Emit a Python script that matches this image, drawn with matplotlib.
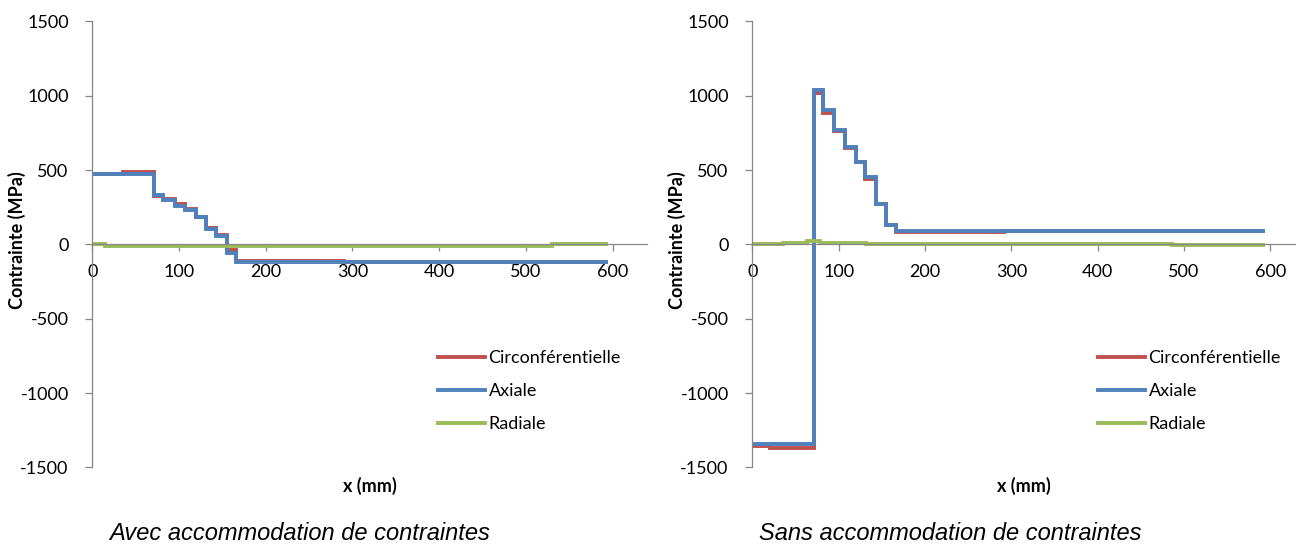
import matplotlib
matplotlib.use("Agg")
import matplotlib.pyplot as plt

plt.rcParams['font.family'] = ['Lato', 'DejaVu Sans']
plt.rcParams['axes.unicode_minus'] = False

# --- data (x in mm, stress in MPa) ---
# Avec accommodation de contraintes
left_circ_x = [0, 35, 71, 82, 95, 107, 120, 131, 143, 155, 166, 290, 592]
left_circ_y = [470, 485, 325, 305, 270, 235, 185, 110, 65, -40, -112, -122]
left_axial_x = [0, 71, 82, 95, 107, 120, 131, 143, 155, 166, 592]
left_axial_y = [472, 335, 297, 260, 229, 181, 104, 59, -57, -122]
left_radial_x = [0, 15, 110, 215, 530, 592]
left_radial_y = [4, -8, -12, -8, 2]

# Sans accommodation de contraintes
right_circ_x = [0, 20, 71, 82, 95, 107, 120, 131, 143, 155, 166, 292, 592]
right_circ_y = [-1355, -1370, 1020, 880, 760, 650, 555, 440, 272, 128, 83, 92]
right_axial_x = [0, 71, 82, 95, 107, 120, 131, 143, 155, 166, 592]
right_axial_y = [-1340, 1035, 905, 770, 655, 555, 455, 272, 128, 92]
right_radial_x = [0, 9, 35, 63, 78, 132, 486, 592]
right_radial_y = [0, 4, 10, 22, 10, 4, -4]

series_names = ['Circonférentielle', 'Axiale', 'Radiale']
colors = ['#C0504D', '#4F81BD', '#9BBB59']
x_ticks = [0, 100, 200, 300, 400, 500, 600]
y_ticks = [-1500, -1000, -500, 0, 500, 1000, 1500]
captions = ['Avec accommodation de contraintes', 'Sans accommodation de contraintes']

W, H = 1296, 552
fig = plt.figure(figsize=(W / 100, H / 100), dpi=100)

axes_specs = [
    ([92.3 / W, 84.6 / H, 555 / W, 446.1 / H], 640,
     [(left_circ_x, left_circ_y), (left_axial_x, left_axial_y), (left_radial_x, left_radial_y)],
     438),
    ([752.3 / W, 84.6 / H, 544 / W, 446.1 / H], 630,
     [(right_circ_x, right_circ_y), (right_axial_x, right_axial_y), (right_radial_x, right_radial_y)],
     1098),
]

grey = '#868686'
for i, (rect, xmax, data, leg_x) in enumerate(axes_specs):
    ax = fig.add_axes(rect)
    for (xs, ys), name, c in zip(data, series_names, colors):
        ax.step(xs, list(ys) + [ys[-1]], where='post', color=c, lw=2.8,
                label=name, solid_joinstyle='miter')

    ax.set_xlim(0, xmax)
    ax.set_ylim(-1500, 1500)
    ax.set_xticks(x_ticks)
    ax.set_yticks(y_ticks)

    for s in ['top', 'right']:
        ax.spines[s].set_visible(False)
    ax.spines['bottom'].set_position(('data', 0))
    for s in ['left', 'bottom']:
        ax.spines[s].set_color(grey)
        ax.spines[s].set_linewidth(0.9)

    ax.tick_params(axis='x', direction='out', length=5, width=0.9, color=grey,
                   labelsize=13, pad=9)
    ax.tick_params(axis='y', direction='out', length=5, width=0.9, color=grey,
                   labelsize=13, pad=12)

    # axis titles
    off = i * 660
    fig.text((17 + off) / W, 1 - 240 / H, 'Contrainte (MPa)', rotation=90,
             ha='center', va='center', fontsize=13, fontweight='bold')
    cx = rect[0] + rect[2] / 2
    fig.text(cx, 1 - 486 / H, 'x (mm)', ha='center', va='center',
             fontsize=13, fontweight='bold')

    ax.legend(loc='upper left', bbox_to_anchor=(leg_x / W, 1 - 350 / H),
              bbox_transform=fig.transFigure, frameon=False, fontsize=13,
              handlelength=2.6, handletextpad=0.2, labelspacing=0.95,
              borderpad=0, borderaxespad=0)

    fig.text((300 + i * 650) / W, 1 - 534 / H, captions[i], ha='center',
             va='center', fontsize=17, style='italic', family='Liberation Sans')

fig.savefig('out.png', dpi=100)
